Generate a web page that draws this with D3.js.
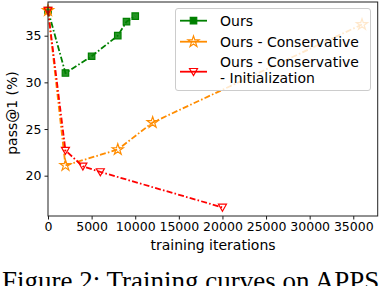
<!DOCTYPE html>
<html>
<head>
<meta charset="utf-8">
<script src="https://cdn.jsdelivr.net/npm/d3@7"></script>
<style>
  body { margin: 0; background: #fff; }
  svg { display: block; }
  text { fill: #000; }
</style>
</head>
<body>
<svg id="chart" width="384" height="286"></svg>
<script>
// data
const oursIters = [0, 2000, 5000, 8000, 9000, 10000];
const oursPass = [37.7, 31.0, 32.8, 35.0, 36.5, 37.1];

const consIters = [0, 2000, 8000, 12000, 36000];
const consPass = [37.7, 21.1, 22.8, 25.7, 36.2];

const initIters = [0, 2000, 4000, 6000, 20000];
const initPass = [37.7, 22.7, 21.0, 20.4, 16.6];

const xTicks = [0, 5000, 10000, 15000, 20000, 25000, 30000, 35000];
const yTicks = [20, 25, 30, 35];

const series = [
  { name: ["Ours"], xs: oursIters, ys: oursPass, color: "green", marker: "square" },
  { name: ["Ours - Conservative"], xs: consIters, ys: consPass, color: "darkorange", marker: "star" },
  { name: ["Ours - Conservative", "- Initialization"], xs: initIters, ys: initPass, color: "red", marker: "tri" },
];

const sansFont = "'DejaVu Sans', sans-serif";
const svg = d3.select("#chart");
const plotLeft = 48, plotRight = 377.7, plotTop = 2, plotBottom = 216;

const x = d3.scaleLinear().domain([0, 37800]).range([plotLeft, plotRight]);
const y = d3.scaleLinear().domain([15.68, 38.61]).range([plotBottom, plotTop]);

// marker shapes
function markerPath(type) {
  if (type === "square") return d3.symbol(d3.symbolSquare, 42)();
  if (type === "star") return d3.symbol(d3.symbolStar, 38)();
  // triangle pointing down
  return "M-4,-3.2L4,-3.2L0,3.8Z";
}
function markerFill(s) {
  return s.marker === "square" ? s.color : "none";
}

const plot = svg.append("g");

const line = d3.line().x((d) => x(d[0])).y((d) => y(d[1]));

series.forEach((s) => {
  const pts = s.xs.map((v, i) => [v, s.ys[i]]);
  plot.append("path")
    .datum(pts)
    .attr("d", line)
    .attr("fill", "none")
    .attr("stroke", s.color)
    .attr("stroke-width", 1.8)
    .attr("stroke-dasharray", "6,2.2,1.6,2.2");

  plot.selectAll(null)
    .data(pts)
    .enter()
    .append("path")
    .attr("d", markerPath(s.marker))
    .attr("transform", (d) => `translate(${x(d[0])},${y(d[1])})`)
    .attr("fill", markerFill(s))
    .attr("fill-opacity", 0.85)
    .attr("stroke", s.color)
    .attr("stroke-width", 1.2);
});

// axes
const xAxis = svg.append("g")
  .attr("transform", `translate(0,${plotBottom})`)
  .call(d3.axisBottom(x).tickValues(xTicks).tickSize(3.5).tickPadding(3).tickFormat(d3.format("d")));
const yAxis = svg.append("g")
  .attr("transform", `translate(${plotLeft},0)`)
  .call(d3.axisLeft(y).tickValues(yTicks).tickSize(3.5).tickPadding(3));

[xAxis, yAxis].forEach((a) => {
  a.select(".domain").remove();
  a.selectAll("line").attr("stroke", "#000").attr("stroke-width", 0.9);
  a.selectAll("text").style("font-size", "12.5px").style("font-family", sansFont);
});

// frame
svg.append("rect")
  .attr("x", plotLeft)
  .attr("y", plotTop)
  .attr("width", plotRight - plotLeft)
  .attr("height", plotBottom - plotTop)
  .attr("fill", "none")
  .attr("stroke", "#222")
  .attr("stroke-width", 1);

// axis labels
svg.append("text")
  .attr("x", 213)
  .attr("y", 250)
  .attr("text-anchor", "middle")
  .style("font-family", sansFont)
  .style("font-size", "14px")
  .text("training iterations");

svg.append("text")
  .attr("transform", "translate(17,113) rotate(-90)")
  .attr("text-anchor", "middle")
  .style("font-family", sansFont)
  .style("font-size", "14px")
  .text("pass@1 (%)");

// legend
const legend = svg.append("g");
legend.append("rect")
  .attr("x", 175.5)
  .attr("y", 8.5)
  .attr("width", 195)
  .attr("height", 82)
  .attr("rx", 2.5)
  .attr("fill", "#fff")
  .attr("fill-opacity", 0.8)
  .attr("stroke", "#ccc")
  .attr("stroke-width", 1);

const rowY = [20.7, 41.7, 71.7];
series.forEach((s, i) => {
  const cy = rowY[i];
  legend.append("line")
    .attr("x1", 180)
    .attr("x2", 207)
    .attr("y1", cy)
    .attr("y2", cy)
    .attr("stroke", s.color)
    .attr("stroke-width", 1.8);
  legend.append("path")
    .attr("d", markerPath(s.marker))
    .attr("transform", `translate(193.5,${cy})`)
    .attr("fill", markerFill(s))
    .attr("stroke", s.color)
    .attr("stroke-width", 1.2);
  const t = legend.append("text")
    .attr("x", 220)
    .attr("y", s.name.length > 1 ? cy - 9.4 : cy)
    .style("font-family", sansFont)
    .style("font-size", "14px");
  s.name.forEach((part, j) => {
    t.append("tspan")
      .attr("x", 220)
      .attr("dy", j === 0 ? "0.36em" : "1.14em")
      .text(part);
  });
});

// caption (cut at the bottom edge, as in the reference)
svg.append("text")
  .attr("x", 2)
  .attr("y", 289.5)
  .style("font-family", "'Liberation Serif', 'Times New Roman', serif")
  .style("font-size", "27px")
  .text("Figure 2: Training curves on APPS");
</script>
</body>
</html>
